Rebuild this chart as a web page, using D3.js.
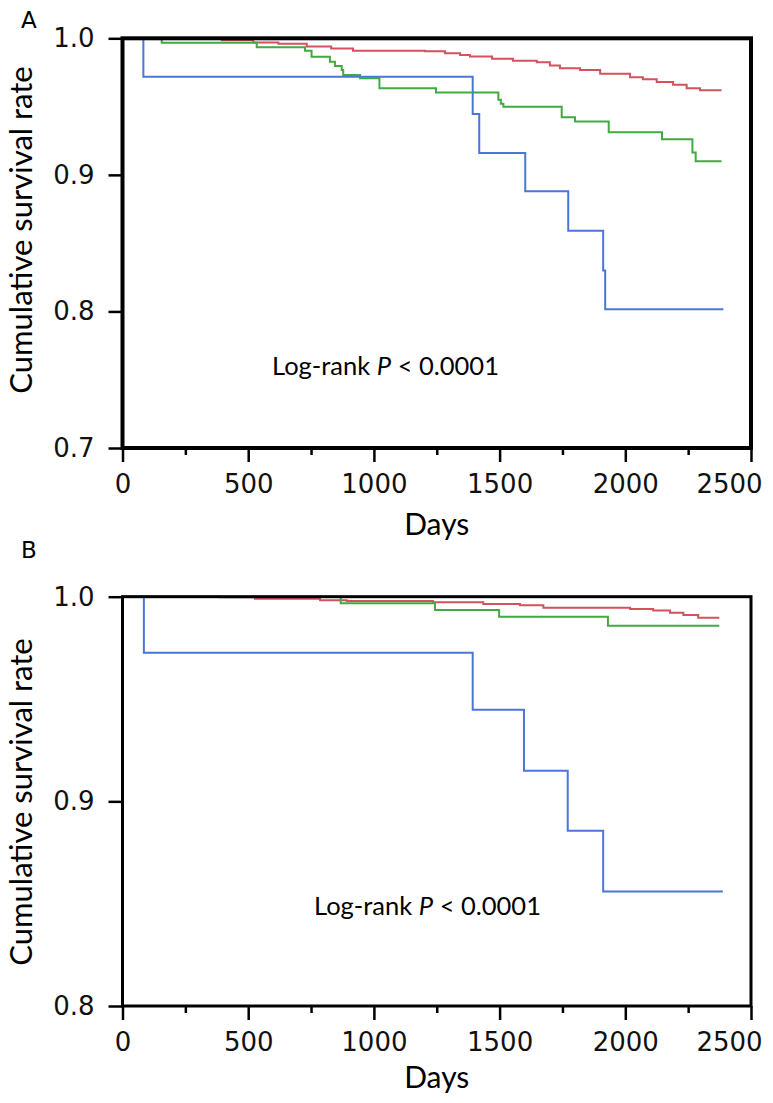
<!DOCTYPE html>
<html><head><meta charset="utf-8">
<script src="https://cdn.jsdelivr.net/npm/d3@7"></script>
<style>body{margin:0;background:#fff}</style>
</head><body>
<svg id="c" width="773" height="1103"></svg>
<script>
// ---- data: [day, cumulative survival] ----
const redA = [[0,1],[395,0.9985],[520,0.997],[620,0.996],[733,0.994],[830,0.9925],[917,0.9908],[1204,0.9905],[1283,0.989],[1343,0.9878],[1382,0.9866],[1470,0.985],[1553,0.9836],[1648,0.9825],[1700,0.980],[1740,0.978],[1820,0.9768],[1900,0.974],[2019,0.9715],[2070,0.970],[2125,0.968],[2190,0.966],[2244,0.9634],[2297,0.962],[2383,0.962]];
const greenA = [[0,1],[156,0.9968],[534,0.9934],[726,0.9909],[752,0.9865],[825,0.9829],[845,0.9797],[872,0.9768],[878,0.9731],[945,0.9707],[1022,0.9634],[1247,0.9603],[1495,0.955],[1505,0.952],[1515,0.9499],[1747,0.9422],[1800,0.939],[1934,0.9312],[2146,0.9261],[2267,0.9163],[2280,0.91],[2383,0.91]];
const blueA = [[0,1],[83,0.9719],[1393,0.9446],[1419,0.916],[1602,0.888],[1773,0.859],[1912,0.830],[1920,0.8016],[2390,0.8016]];
const redB = [[0,1],[388,0.9997],[527,0.999],[786,0.9983],[892,0.9979],[1235,0.9973],[1435,0.9964],[1581,0.9958],[1674,0.9946],[2019,0.994],[2111,0.9932],[2178,0.9921],[2231,0.991],[2290,0.9897],[2374,0.9897]];
const greenB = [[0,1],[868,0.9968],[1243,0.9935],[1498,0.9902],[1931,0.9858],[2374,0.9858]];
const blueB = [[0,1],[85,0.9726],[1393,0.9447],[1597,0.915],[1771,0.8856],[1912,0.856],[2388,0.856]];
const xTicks = [0,500,1000,1500,2000,2500];
const xMinorTicks = [250,750,1250,1750,2250];
const yTicksA = [0.7,0.8,0.9,1.0];
const yTicksB = [0.8,0.9,1.0];
const panelLabels = ["A","B"];
const xTitle = "Days";
const yTitle = "Cumulative survival rate";
const pText = ["Log-rank ", "P", " < 0.0001"];
const colors = {red:"#d2525e", green:"#41ab43", blue:"#4a77d6"};

const svg = d3.select("#c");
const tickFont = "'DejaVu Sans', Verdana, sans-serif";
const labFont = "Lato, 'Open Sans', sans-serif";

function panel(o){
  const x = d3.scaleLinear().domain([0,2500]).range([122.5,751]);
  const y = d3.scaleLinear().domain(o.yDomain).range(o.yRange);
  const g = svg.append("g");
  const line = d3.line().x(d=>x(d[0])).y(d=>y(d[1])).curve(d3.curveStepAfter);
  o.series.forEach(s=>{
    g.append("path").datum(s.data).attr("d",line).attr("fill","none")
     .attr("stroke",s.color).attr("stroke-width",2);
  });
  // frame
  g.append("rect").attr("x",x(0)).attr("y",y(1)).attr("width",x(2500)-x(0))
   .attr("height",y(o.yDomain[0])-y(1)).attr("fill","none").attr("stroke","#000").attr("stroke-width",o.fw);
  // x axis
  const xa = g.append("g").attr("transform",`translate(0,${y(o.yDomain[0])})`)
    .call(d3.axisBottom(x).tickValues(xTicks).tickSize(14).tickPadding(13).tickSizeOuter(0).tickFormat(d3.format("d")));
  const xm = g.append("g").attr("transform",`translate(0,${y(o.yDomain[0])})`)
    .call(d3.axisBottom(x).tickValues(xMinorTicks).tickSize(7).tickSizeOuter(0).tickFormat(""));
  const ya = g.append("g").attr("transform",`translate(${x(0)},0)`)
    .call(d3.axisLeft(y).tickValues(o.yTicks).tickSize(14).tickPadding(14).tickSizeOuter(0).tickFormat(d3.format(".1f")));
  [xa,xm,ya].forEach(a=>{
    a.select(".domain").remove();
    a.selectAll(".tick line").attr("stroke","#000").attr("stroke-width",2.5);
    a.selectAll("text").attr("font-family",tickFont).attr("font-size",26).attr("fill","#111");
  });
  // last x label pulled inside the picture, as in the reference
  xa.selectAll(".tick text").filter(d=>d===2500).attr("dx",-22);
  // titles
  g.append("text").attr("x",(x(0)+x(2500))/2).attr("y",o.daysY).attr("text-anchor","middle")
   .attr("font-family",labFont).attr("font-size",30).text(xTitle);
  g.append("text").attr("transform",`translate(32,${o.ylabC}) rotate(-90)`).attr("text-anchor","middle")
   .attr("font-family",labFont).attr("font-size",31).text(yTitle);
  g.append("text").attr("x",21).attr("y",o.labY).attr("font-family","'DejaVu Sans', sans-serif")
   .attr("font-size",23).text(o.label);
  const t = g.append("text").attr("x",o.pX).attr("y",o.pY).attr("font-family",labFont).attr("font-size",25.5);
  t.append("tspan").text(pText[0]);
  t.append("tspan").attr("font-style","italic").text(pText[1]);
  t.append("tspan").text(pText[2]);
}

panel({yDomain:[0.7,1.0], yRange:[448,38.3], yTicks:yTicksA, fw:4,
  series:[{data:redA,color:colors.red},{data:greenA,color:colors.green},{data:blueA,color:colors.blue}],
  daysY:535, ylabC:230, labY:27.5, label:panelLabels[0], pX:272, pY:375});
panel({yDomain:[0.8,1.0], yRange:[1006,596.7], yTicks:yTicksB, fw:3,
  series:[{data:redB,color:colors.red},{data:greenB,color:colors.green},{data:blueB,color:colors.blue}],
  daysY:1088, ylabC:802, labY:557.5, label:panelLabels[1], pX:314, pY:915});
</script>
</body></html>
